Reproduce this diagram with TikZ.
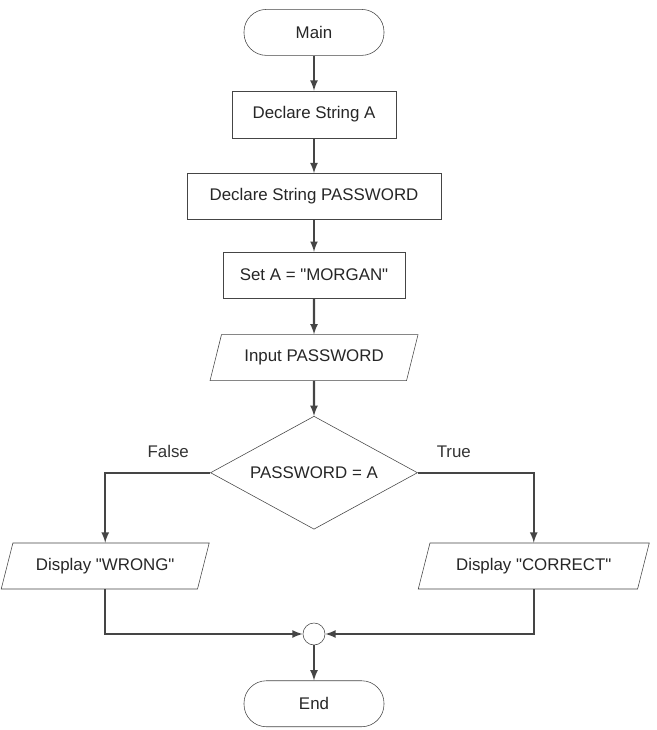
\documentclass[tikz,border=0pt]{standalone}
\usepackage{fontspec}
\newfontfamily\chartfont{Liberation Sans}
\usetikzlibrary{shapes.geometric, arrows, positioning, calc}
\definecolor{inkgray}{gray}{0.27}
\tikzstyle{startstop} = [rectangle, rounded corners=0.56cm, minimum width=3.5cm, minimum height=1.15cm, text centered, draw=inkgray, thin]
\tikzstyle{process} = [rectangle, minimum height=1.15cm, text centered, draw=inkgray, thin]
\tikzstyle{io} = [trapezium, trapezium left angle=65, trapezium right angle=115, trapezium stretches body, minimum height=1.15cm, text centered, draw=inkgray, thin]
\tikzstyle{decision} = [diamond, minimum width=5.175cm, minimum height=2.825cm, shape aspect=1.8, inner sep=0pt, text centered, draw=inkgray, thin]
\tikzstyle{junction} = [circle, minimum size=0.55cm, inner sep=0pt, draw=inkgray, thin]
\tikzstyle{lbl} = [text=black!80]
\tikzstyle{arrow} = [line width=1.5pt, draw=inkgray, ->, >=latex]

\begin{document}
\begin{tikzpicture}[node distance=0.875cm, every node/.style={font=\chartfont\fontsize{12}{14}\selectfont, text=black!85}]
    \useasboundingbox (0,0) rectangle (16.4,-18.25);
    \node (main) [startstop] at (7.85,-0.81) {Main};
    \node (declA) [process, below=of main, minimum width=4.1cm, minimum height=1.175cm] {Declare String A};
    \node (declPW) [process, below=of declA, minimum width=6.35cm] {Declare String PASSWORD};
    \node (setA) [process, below=0.8cm of declPW, minimum width=4.55cm] {Set A = "MORGAN"};
    \node (input) [io, below=0.9cm of setA, minimum width=5.2cm] {Input PASSWORD};
    \node (test) [decision, below=of input] {PASSWORD = A};
    % two branches
    \node (false) [lbl, above=0.25cm of test.west, xshift=-1.05cm] {False};
    \node (true) [lbl, above=0.25cm of test.east, xshift=0.9cm] {True};
    \node (wrong) [io, below=1.75cm of test.west, xshift=-2.625cm, minimum width=5.2cm] {Display "WRONG"};
    \node (correct) [io, below=1.75cm of test.east, xshift=2.9cm, minimum width=5.775cm] {Display "CORRECT"};
    \node (join) [junction, below=2.33cm of test] {};
    \node (end) [startstop, below=0.88cm of join] {End};

    \draw [arrow] (main) -- (declA);
    \draw [arrow] (declA) -- (declPW);
    \draw [arrow] (declPW) -- (setA);
    \draw [arrow] (setA) -- (input);
    \draw [arrow] (input) -- (test);
    \draw [arrow] (test.west) -| (wrong.north);
    \draw [arrow] (test.east) -| (correct.north);
    \draw [arrow] (wrong.south) |- (join.west);
    \draw [arrow] (correct.south) |- (join.east);
    \draw [arrow] (join) -- (end);
\end{tikzpicture}
\end{document}
